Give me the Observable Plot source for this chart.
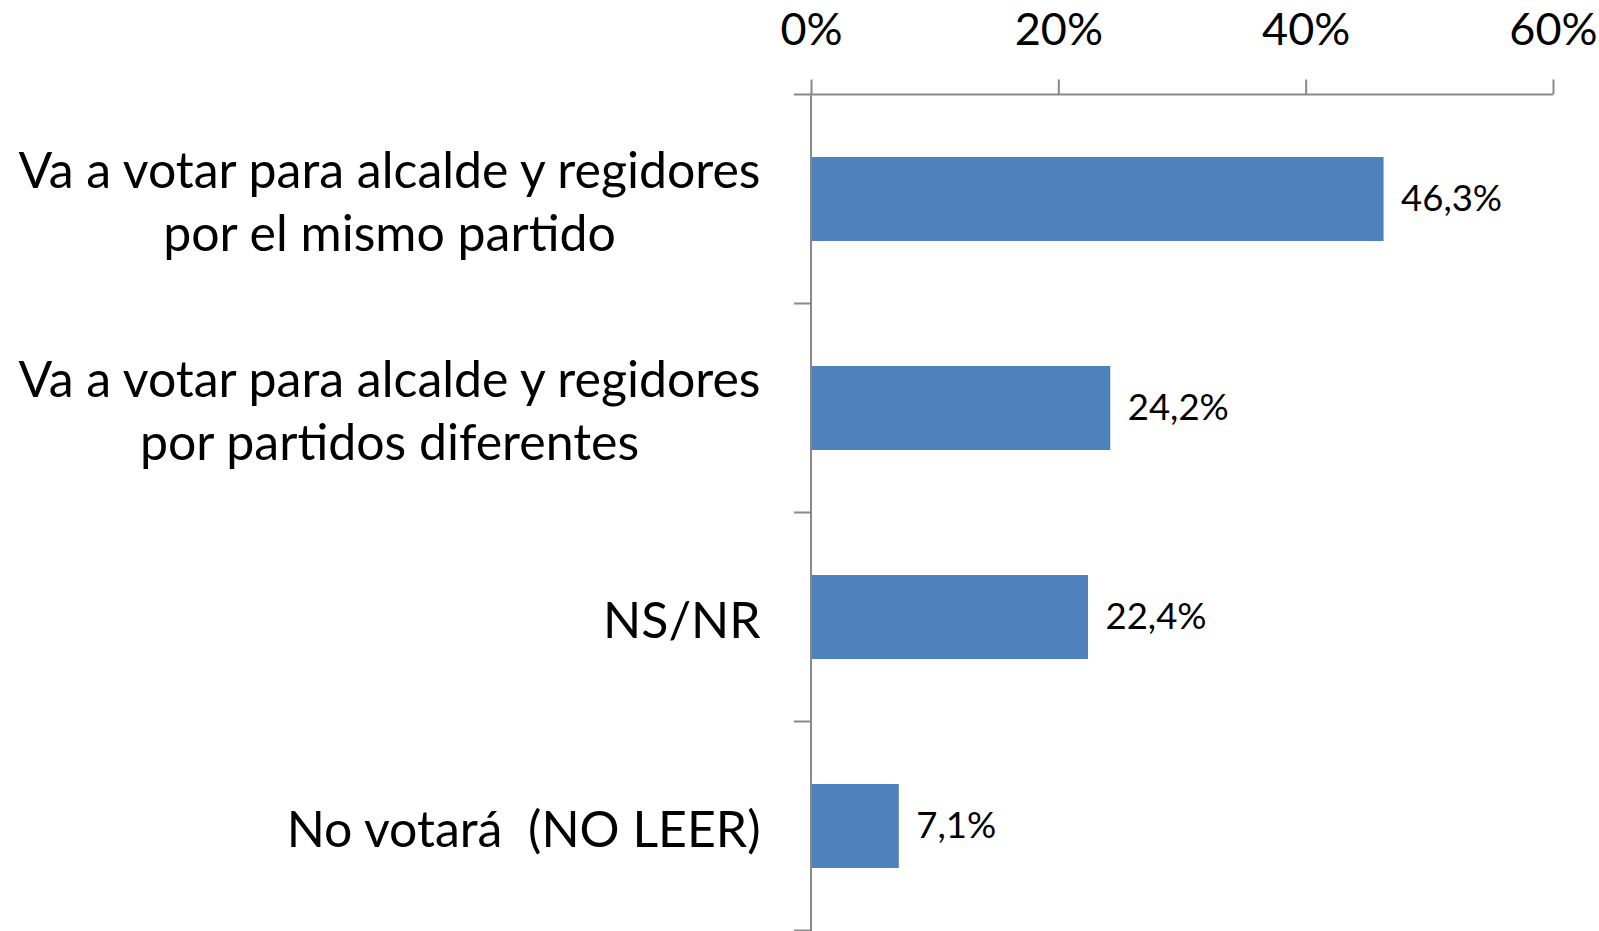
<!DOCTYPE html>
<html><head><meta charset="utf-8">
<script src="https://cdn.jsdelivr.net/npm/d3@7"></script>
<script src="https://cdn.jsdelivr.net/npm/@observablehq/plot@0.6"></script>
<style>html,body{margin:0;padding:0;background:#fff} svg{display:block}</style>
</head><body><div id="chart"></div>
<script>
const categories = [
  "Va a votar para alcalde y regidores\npor el mismo partido",
  "Va a votar para alcalde y regidores\npor partidos diferentes",
  "NS/NR",
  "No votará  (NO LEER)"
];
const values = [46.3, 24.2, 22.4, 7.1];
const valueLabels = ["46,3%", "24,2%", "22,4%", "7,1%"];
const xTicks = [0, 20, 40, 60];
const xTickLabels = ["0%", "20%", "40%", "60%"];

const data = categories.map((c, i) => ({category: c, value: values[i], label: valueLabels[i]}));

const axisColor = "#898989";
const font = "Lato, 'Open Sans', sans-serif";

function frameLines(index, scales, vals, dims) {
  const y = scales.y, x = scales.x;
  const x0 = x(0), x1 = x(xTicks[xTicks.length - 1]);
  const bw = y.bandwidth();
  const step = y.step ? y.step() : bw / 0.4;
  const g = d3.create("svg:g").attr("stroke", axisColor).attr("stroke-width", 2).attr("fill", "none");
  const bounds = categories.map(c => y(c) - (step - bw) / 2);
  bounds.push(bounds[bounds.length - 1] + step);
  for (const b of bounds) {
    g.append("line").attr("x1", x0 - 17).attr("x2", x0).attr("y1", b).attr("y2", b);
  }
  g.append("line").attr("x1", x0).attr("x2", x1).attr("y1", bounds[0]).attr("y2", bounds[0]);
  g.append("line").attr("x1", x0).attr("x2", x0).attr("y1", dims.marginTop).attr("y2", dims.height);
  return g.node();
}

const chart = Plot.plot({
  width: 1599,
  height: 931,
  marginTop: 93.5,
  marginBottom: 0,
  marginLeft: 811,
  marginRight: 46,
  style: {fontFamily: font, color: "black", background: "white", overflow: "visible"},
  x: {domain: [0, 60], label: null},
  y: {domain: categories, paddingInner: 0.6, paddingOuter: 0.3, label: null},
  marks: [
    Plot.barX(data, {x: "value", y: "category", fill: "#4F81BD"}),
    Plot.text(data, {x: "value", y: "category", text: "label", textAnchor: "start", dx: 17, fontSize: 36.5, fill: "black"}),
    frameLines,
    Plot.axisX({anchor: "top", ticks: xTicks, tickFormat: (d) => xTickLabels[xTicks.indexOf(d)], tickSize: 15, tickPadding: 34, fontSize: 45, stroke: axisColor, strokeWidth: 2, fill: "black", label: null}),
    Plot.axisY({anchor: "left", tickSize: 0, tickPadding: 51, fontSize: 50, lineHeight: 63 / 50, fill: "black", label: null})
  ]
});
document.getElementById("chart").appendChild(chart);

// Center multi-line category labels relative to each other (block stays right-aligned)
d3.select(chart).selectAll("text").each(function() {
  const tspans = this.querySelectorAll("tspan");
  if (tspans.length > 1) {
    const w = this.getBBox().width;
    this.setAttribute("text-anchor", "middle");
    tspans.forEach(t => t.setAttribute("x", -w / 2));
  }
});
</script>
</body></html>
